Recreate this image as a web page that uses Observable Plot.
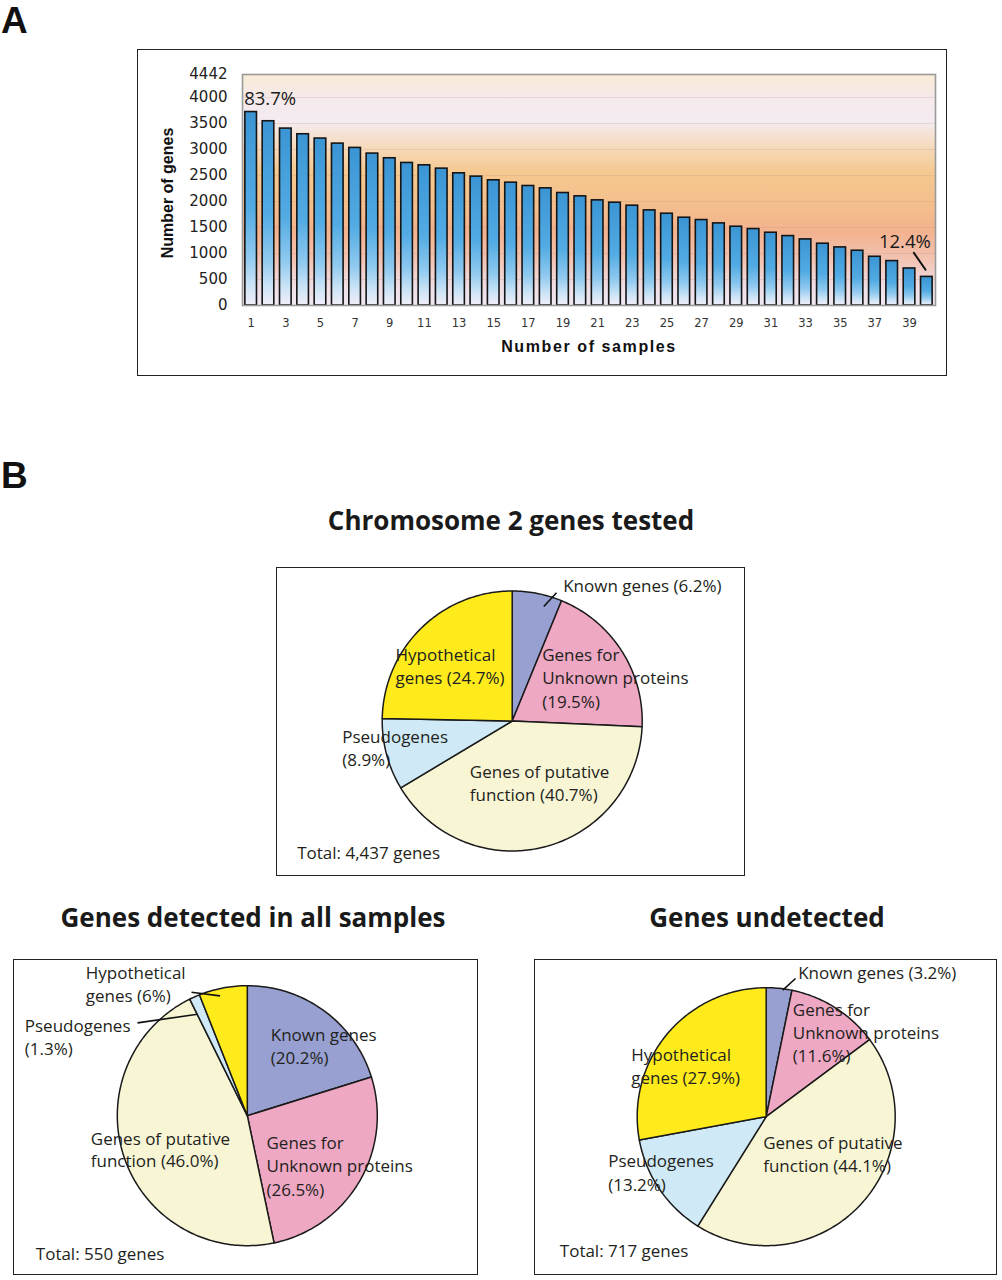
<!DOCTYPE html>
<html>
<head>
<meta charset="utf-8">
<script src="https://cdn.jsdelivr.net/npm/d3@7"></script>
<script src="https://cdn.jsdelivr.net/npm/@observablehq/plot@0.6"></script>
<style>
  body { margin: 0; background: #fff; }
  #root { position: relative; width: 1002px; height: 1280px; overflow: hidden; background: #fff; }
  .box { position: absolute; border: 1.5px solid #222; box-sizing: border-box; }
  .panel { position: absolute; font-family: "Liberation Sans", Arial, sans-serif; font-weight: bold; font-size: 37px; line-height: 1.1; color: #111; }
  .title { position: absolute; font-family: "Open Sans", sans-serif; font-weight: bold; font-size: 26px; line-height: 1.2; color: #1a1a1a; white-space: nowrap; transform: translate(-50%, -50%); }
  svg { overflow: visible; }
</style>
</head>
<body>
<div id="root"></div>
<script>
// ---------------- DATA ----------------
// Panel A: number of genes detected in at least N samples
const samples = [1,2,3,4,5,6,7,8,9,10,11,12,13,14,15,16,17,18,19,20,21,22,23,24,25,26,27,28,29,30,31,32,33,34,35,36,37,38,39,40];
const geneCounts = [3720,3543,3402,3293,3210,3113,3030,2921,2831,2741,2696,2632,2542,2478,2407,2362,2298,2253,2163,2099,2022,1977,1919,1829,1765,1688,1643,1579,1515,1470,1399,1335,1271,1188,1117,1053,937,854,712,550];
const yTickValues = [0,500,1000,1500,2000,2500,3000,3500,4000,4442];
const xTickValues = [1,3,5,7,9,11,13,15,17,19,21,23,25,27,29,31,33,35,37,39];
const barNotes = [
  {sample: 1, genes: 3720, text: "83.7%"},
  {sample: 40, genes: 550, text: "12.4%"}
];

// Panel B: gene categories (clockwise from 12 o'clock)
const categories = ["Known genes", "Genes for Unknown proteins", "Genes of putative function", "Pseudogenes", "Hypothetical genes"];
const categoryColors = ["#97a0d0", "#eea8c3", "#f8f5d5", "#cfeaf6", "#ffeb1c"];
const testedShares = [6.2, 19.5, 40.7, 8.9, 24.7];
const detectedShares = [20.2, 26.5, 46.0, 1.3, 6];
const undetectedShares = [3.2, 11.6, 44.1, 13.2, 27.9];

const testedLabels = ["Known genes (6.2%)", "Hypothetical", "genes (24.7%)", "Genes for", "Unknown proteins", "(19.5%)", "Pseudogenes", "(8.9%)", "Genes of putative", "function (40.7%)", "Total: 4,437 genes"];
const detectedLabels = ["Hypothetical", "genes (6%)", "Pseudogenes", "(1.3%)", "Known genes", "(20.2%)", "Genes of putative", "function (46.0%)", "Genes for", "Unknown proteins", "(26.5%)", "Total: 550 genes"];
const undetectedLabels = ["Known genes (3.2%)", "Genes for", "Unknown proteins", "(11.6%)", "Hypothetical", "genes (27.9%)", "Pseudogenes", "(13.2%)", "Genes of putative", "function (44.1%)", "Total: 717 genes"];

// ---------------- LAYOUT (page pixels) ----------------
const layoutTested = {
  box: [276, 567, 745, 876], center: [511.7, 720.5], r: 130,
  labelPos: [[562.7,586],[395,655],[395,678.3],[541.7,655],[541.7,678.3],[541.7,701.7],[341.7,736.7],[341.7,760],[469.3,771.7],[469.3,795],[296.7,852.7]],
  leaders: [[[543.3,606],[556,592.3]]]
};
const layoutDetected = {
  box: [12.7, 959.3, 477.7, 1275], center: [246.5, 1115.5], r: 130,
  labelPos: [[85,973.3],[85,996.7],[24,1026.7],[24,1049.3],[270,1035],[270,1058.3],[90,1139.3],[90,1161.7],[265.7,1143.3],[265.7,1166.7],[265.7,1190],[35,1254]],
  leaders: [[[190.7,992],[219.3,995.7]], [[136.7,1022.7],[196.7,1014]]]
};
const layoutUndetected = {
  box: [534, 959.3, 997.3, 1275], center: [765.7, 1116.5], r: 129,
  labelPos: [[797.7,973.3],[792.3,1010],[792.3,1033.3],[792.3,1056.7],[630.7,1055],[630.7,1078.3],[607.7,1161.7],[607.7,1185.7],[762.7,1143.3],[762.7,1166.7],[559.3,1251.7]],
  leaders: [[[782.3,990],[795,978.3]]]
};

const root = document.getElementById("root");
function addDiv(cls, text, left, top, extra) {
  const d = document.createElement("div");
  d.className = cls;
  if (text) d.textContent = text;
  d.style.left = left + "px";
  d.style.top = top + "px";
  if (extra) Object.assign(d.style, extra);
  root.appendChild(d);
  return d;
}

// ---------------- PANEL A ----------------
addDiv("panel", "A", 1, 1);
addDiv("box", "", 137, 49, {width: (947 - 137) + "px", height: (376 - 49) + "px"});

const barData = samples.map((s, i) => ({sample: s, genes: geneCounts[i]}));
const sansA = "'Liberation Sans', Arial, sans-serif";
const tickFont = "'DejaVu Sans', sans-serif";

const barPlot = Plot.plot({
  width: 1002, height: 380,
  marginLeft: 242, marginRight: 67, marginTop: 74, marginBottom: 75,
  style: {background: "transparent", fontFamily: sansA, color: "#222", overflow: "visible"},
  x: {type: "band", domain: samples, paddingInner: 0.33, paddingOuter: 0.165, round: false, axis: null},
  y: {domain: [0, 4442], axis: null},
  marks: [
    Plot.frame({fill: "url(#bgGrad)", stroke: "none"}),
    Plot.gridY(yTickValues.filter(v => v > 0 && v < 4442), {stroke: "#b09080", strokeOpacity: 0.22, strokeWidth: 1}),
    Plot.barY(barData, {x: "sample", y: "genes", fill: "url(#barGrad)", stroke: "#151515", strokeWidth: 1.6}),
    Plot.frame({stroke: "#9a9a9a", strokeWidth: 1.6}),
    Plot.axisY(yTickValues, {label: null, tickSize: 0, tickPadding: 15, fontSize: 15, fontFamily: tickFont, fill: "#222", tickFormat: d => String(d)}),
    Plot.axisX(xTickValues, {label: null, tickSize: 0, tickPadding: 13, fontSize: 11.5, fontFamily: tickFont, fill: "#333", tickFormat: d => String(d)}),
    Plot.text(["Number of genes"], {frameAnchor: "left", textAnchor: "middle", rotate: -90, dx: -75, dy: 3, fontSize: 16, fontWeight: "bold", fill: "#111"}),
    Plot.text(["Number of samples"], {frameAnchor: "bottom", textAnchor: "middle", dy: 46, fontSize: 16, fontWeight: "bold", fill: "#111"}),
    Plot.text(barNotes.slice(0, 1), {x: "sample", y: "genes", text: "text", textAnchor: "start", dx: -7, dy: -13, fontSize: 18.5, fontFamily: "'Open Sans', sans-serif", fill: "#1a1a1a"}),
    Plot.text(barNotes.slice(1), {x: "sample", y: "genes", text: "text", textAnchor: "end", dx: 4, dy: -35, fontSize: 18.5, fontFamily: "'Open Sans', sans-serif", fill: "#1a1a1a"}),
    Plot.vector(barNotes.slice(1), {
      x: "sample", y: "genes", dx: -1.3, dy: -7.1, length: 20.6, rotate: -34.5, anchor: "start",
      stroke: "#111", strokeWidth: 2,
      shape: {draw(context, l) { context.moveTo(0, 0); context.lineTo(0, -l); }}
    })
  ]
});

// gradients
const defs = d3.select(barPlot).insert("defs", ":first-child");
const bg = defs.append("linearGradient").attr("id", "bgGrad").attr("x1", 0).attr("y1", 0).attr("x2", 0).attr("y2", 1);
[[0, "#f9ebd4"], [0.1, "#f5e9ea"], [0.2, "#f4ecf2"], [0.3, "#f6dcc2"], [0.42, "#f5c990"], [0.56, "#f4bf8c"], [0.68, "#f3b28e"], [0.8, "#f2c3b2"], [0.92, "#efdee6"], [1, "#efe8f2"]]
  .forEach(([o, c]) => bg.append("stop").attr("offset", o).attr("stop-color", c));
const bgr = defs.append("linearGradient").attr("id", "barGrad").attr("x1", 0).attr("y1", 0).attr("x2", 0).attr("y2", 1);
[[0, "#3b95d4"], [0.5, "#52abe3"], [0.75, "#8fc9ef"], [0.9, "#cde4f6"], [1, "#f1eef8"]]
  .forEach(([o, c]) => bgr.append("stop").attr("offset", o).attr("stop-color", c));
d3.select(barPlot).selectAll("text").filter(function() { return this.textContent === "Number of samples"; }).attr("letter-spacing", "1.6px");

barPlot.style.position = "absolute";
barPlot.style.left = "0px";
barPlot.style.top = "0px";
root.appendChild(barPlot);

// ---------------- PANEL B ----------------
addDiv("panel", "B", 1, 456);
addDiv("title", "Chromosome 2 genes tested", 511, 521);
addDiv("title", "Genes detected in all samples", 253, 918);
addDiv("title", "Genes undetected", 767, 918);

function drawPie(shares, labels, layout) {
  const [bx0, by0, bx1, by1] = layout.box;
  const [cx, cy] = layout.center;
  const r = layout.r;
  const W = bx1 - bx0, H = by1 - by0;
  addDiv("box", "", bx0, by0, {width: W + "px", height: H + "px"});

  const slices = d3.pie().sort(null).value(d => d.share)(
    categories.map((c, i) => ({category: c, color: categoryColors[i], share: shares[i]}))
  );
  const sliceMarks = slices.map(a => {
    const n = Math.max(2, Math.ceil((a.endAngle - a.startAngle) / (Math.PI / 180)));
    const pts = [{x: 0, y: 0}];
    for (let k = 0; k <= n; k++) {
      const t = a.startAngle + (a.endAngle - a.startAngle) * k / n;
      pts.push({x: Math.sin(t), y: Math.cos(t)});
    }
    return Plot.line(pts, {x: d => d.x * r, y: d => d.y * r, fill: a.data.color, stroke: "#1a1a1a", strokeWidth: 1.5, strokeLinejoin: "round", curve: "linear-closed"});
  });

  const labelData = labels.map((t, i) => ({text: t, px: layout.labelPos[i][0], py: layout.labelPos[i][1]}));
  const p = Plot.plot({
    width: W, height: H, margin: 0,
    style: {background: "transparent", overflow: "visible"},
    x: {domain: [bx0 - cx, bx1 - cx], axis: null},
    y: {domain: [cy - by1, cy - by0], axis: null},
    marks: [
      ...sliceMarks,
      Plot.link(layout.leaders, {x1: d => d[0][0] - cx, y1: d => cy - d[0][1], x2: d => d[1][0] - cx, y2: d => cy - d[1][1], stroke: "#111", strokeWidth: 1.6}),
      Plot.text(labelData, {x: d => d.px - cx, y: d => cy - d.py, text: "text", textAnchor: "start", fontSize: 17, fontFamily: "'Open Sans', sans-serif", fill: "#231f20"})
    ]
  });
  p.style.position = "absolute";
  p.style.left = bx0 + "px";
  p.style.top = by0 + "px";
  root.appendChild(p);
}

drawPie(testedShares, testedLabels, layoutTested);
drawPie(detectedShares, detectedLabels, layoutDetected);
drawPie(undetectedShares, undetectedLabels, layoutUndetected);
</script>
</body>
</html>
